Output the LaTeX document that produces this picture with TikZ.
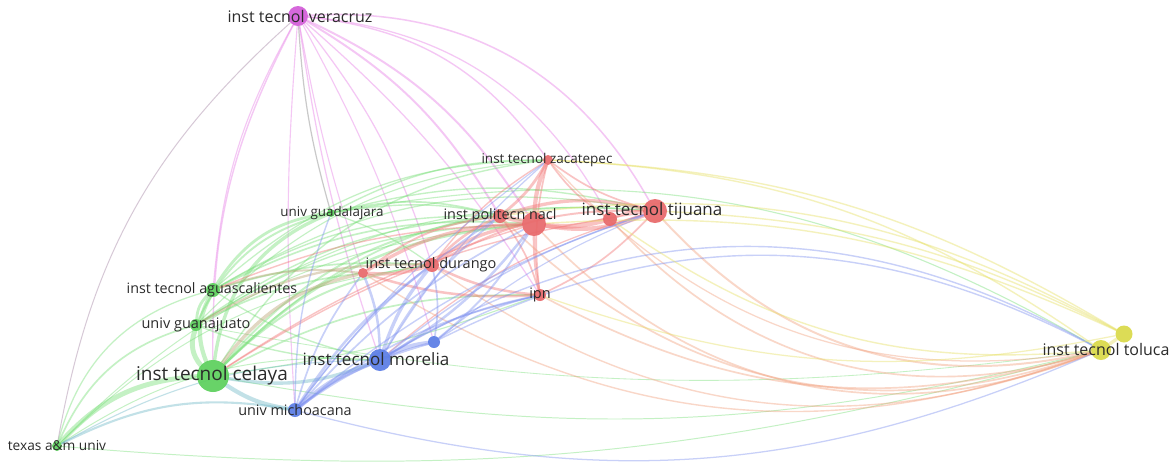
\documentclass[tikz,border=0pt]{standalone}
\usepackage{fontspec}
\setmainfont{Open Sans}
\usetikzlibrary{backgrounds}

\definecolor{vred}{HTML}{E8686A}
\definecolor{vgreen}{HTML}{5CD05C}
\definecolor{vblue}{HTML}{5A7CE6}
\definecolor{vyellow}{HTML}{DADA48}
\definecolor{vmag}{HTML}{D35CD8}
\definecolor{lred}{HTML}{F27272}
\definecolor{lgreen}{HTML}{74DE74}
\definecolor{lblue}{HTML}{7C8FF0}
\definecolor{lyellow}{HTML}{E6E060}
\definecolor{lorange}{HTML}{F2A07E}
\definecolor{lmag}{HTML}{E77BE6}
\definecolor{lteal}{HTML}{6FB8C8}
\definecolor{lolive}{HTML}{B8A070}
\definecolor{lbltext}{HTML}{2B2B2B}

\tikzset{
  dot/.style={circle, inner sep=0pt, draw=none, fill=#1, fill opacity=0.92},
  lbl/.style={text=lbltext, inner sep=0pt},
  link/.style={draw opacity=0.42, line cap=round},
}

\begin{document}
\begin{tikzpicture}[x=0.5pt, y=-0.5pt]

\useasboundingbox (0,0) rectangle (1174,468);

% institutions (sizes in half points)
\node[dot=vmag, minimum size=10pt] (ver) at (298,16) {};
\node[dot=vred, minimum size=5pt] (zac) at (548,160) {};
\node[dot=vred, minimum size=12pt] (tij) at (655,211) {};
\node[dot=vred, minimum size=7pt] (tij2) at (610,219) {};
\node[dot=vred, minimum size=7pt] (pn) at (500,216) {};
\node[dot=vred, minimum size=12pt] (pn2) at (534,224) {};
\node[dot=vred, minimum size=6pt] (ipn) at (540,295) {};
\node[dot=vred, minimum size=7pt] (dur) at (432,265) {};
\node[dot=vred, minimum size=5pt] (dur2) at (363,273) {};
\node[dot=vgreen, minimum size=4pt] (gdl) at (331,213) {};
\node[dot=vgreen, minimum size=7pt] (ags) at (213,290) {};
\node[dot=vgreen, minimum size=6pt] (gto) at (196,325) {};
\node[dot=vgreen, minimum size=16pt] (cel) at (213,376) {};
\node[dot=vgreen, minimum size=5pt] (tam) at (57,446) {};
\node[dot=vblue, minimum size=7pt] (umich) at (295,410) {};
\node[dot=vblue, minimum size=11pt] (mor) at (380,360) {};
\node[dot=vblue, minimum size=6pt] (mor2) at (434,342) {};
\node[dot=vyellow, minimum size=8.5pt] (tol2) at (1124,334) {};
\node[dot=vyellow, minimum size=10pt] (tol) at (1101,350) {};

% labels
\node[lbl, font=\fontsize{8}{8}\selectfont] (ver-t) at (300,16) {inst tecnol veracruz};
\node[lbl, font=\fontsize{6.75}{7}\selectfont] (zac-t) at (547,160) {inst tecnol zacatepec};
\node[lbl, font=\fontsize{8.5}{9}\selectfont] (tij-t) at (652,211) {inst tecnol tijuana};
\node[lbl, font=\fontsize{7.2}{8}\selectfont] (pn-t) at (500,216) {inst politecn nacl};
\node[lbl, font=\fontsize{7.25}{8}\selectfont] (ipn-t) at (540,295) {ipn};
\node[lbl, font=\fontsize{7.25}{8}\selectfont] (dur-t) at (431,265) {inst tecnol durango};
\node[lbl, font=\fontsize{6.7}{7}\selectfont] (gdl-t) at (332,213) {univ guadalajara};
\node[lbl, font=\fontsize{7.15}{8}\selectfont] (ags-t) at (212,290) {inst tecnol aguascalientes};
\node[lbl, font=\fontsize{7.25}{8}\selectfont] (gto-t) at (196,325) {univ guanajuato};
\node[lbl, font=\fontsize{9.5}{10}\selectfont] (cel-t) at (212,376) {inst tecnol celaya};
\node[lbl, font=\fontsize{6.85}{7}\selectfont] (tam-t) at (57,446) {texas a\&m univ};
\node[lbl, font=\fontsize{7.2}{8}\selectfont] (umich-t) at (295,410) {univ michoacana};
\node[lbl, font=\fontsize{8.5}{9}\selectfont] (mor-t) at (376,359) {inst tecnol morelia};
\node[lbl, font=\fontsize{8}{8}\selectfont] (tol-t) at (1106,349) {inst tecnol toluca};

\begin{scope}[on background layer]
\fill[white] (0,0) rectangle (1174,468);

% links from veracruz
\foreach \a/\b/\t/\w in {cel/ver/14/1, ags/ver/12/0.8, umich/ver/4/0.8,
  mor/ver/5/0.9, dur2/ver/4/0.8, ver/dur/10/0.9, ver/pn/14/1.4, ver/pn2/16/1.4,
  ver/ipn/8/0.9, ver/zac/24/1, ver/tij/32/1.1, ver/tij2/28/0.9, ver/mor2/6/0.8}
  \draw[link, lmag, line width=0.7pt*\w] (\a) to[bend left=\t] (\b);
\draw[link, gray!70!lmag, line width=0.5pt] (tam) to[bend left=19] (ver);
\draw[link, gray, line width=0.6pt] (gdl) to[bend left=6] (ver);

% green cluster
\foreach \a/\b/\t/\w in {tam/cel/22/3.5, tam/gto/25/1.2, tam/ags/30/0.9, tam/tol/-10/0.7,
  cel/gto/30/3.5, cel/ags/25/3, cel/gdl/30/2.4, gto/ags/20/2, ags/gdl/25/2,
  gto/gdl/25/1.4, cel/dur/18/1.4, cel/pn/20/1.4, cel/pn2/20/1.8,
  cel/ipn/14/1.2, cel/zac/25/1, cel/tij/25/1.2, cel/tol/-12/0.7, gto/tol/-9/0.6,
  gdl/zac/14/1, gdl/pn/14/1.2, gdl/pn2/12/1, gdl/dur/8/0.9, gdl/tij/14/1,
  gdl/tol/20/0.8, ags/dur/10/1.2, ags/pn2/15/1.2, ags/pn/15/1, ags/zac/20/0.9,
  ags/tij/20/0.9, ags/mor/-10/1, gto/pn/15/1, gto/pn2/15/1, gto/zac/20/0.8,
  gto/tij/18/0.8, gto/mor/-10/1, gto/dur2/10/1.2, tam/mor/18/0.7,
  tam/pn2/20/0.7, tam/dur/18/0.7, cel/ipn/-6/0.8}
  \draw[link, lgreen, line width=0.7pt*\w] (\a) to[bend left=\t] (\b);
\foreach \a/\b/\t/\w in {cel/mor/-15/2.4, cel/umich/-12/3, tam/umich/18/1.5, tam/mor/14/0.8}
  \draw[link, lteal, line width=0.7pt*\w] (\a) to[bend left=\t] (\b);
\foreach \a/\b/\t/\w in {cel/dur2/20/2.4, gto/dur/16/1.6, ags/dur2/12/1.4}
  \draw[link, lolive, line width=0.7pt*\w] (\a) to[bend left=\t] (\b);

% red cluster
\foreach \a/\b/\t/\w in {pn/pn2/0/3.5, pn2/tij2/-10/3.5, pn2/tij/-15/3, pn/tij/15/2.4,
  tij2/tij/10/2, zac/pn2/-10/3, zac/pn/10/2, zac/tij/-10/1.2, zac/tij2/-10/1.2,
  zac/ipn/-10/1.2, pn2/ipn/-5/1.8, pn/ipn/10/1.2, dur/ipn/-10/1.8, dur2/dur/-10/2.4,
  dur/pn2/15/2.4, dur/pn/10/1.8, dur2/pn2/15/2.4, dur2/ipn/-10/1.8, dur2/pn/15/1.4,
  ipn/tij/-10/1.2, dur/tij/15/1.4, tij/cel/-12/1, pn2/cel/-8/1, pn2/ags/-10/1,
  zac/dur/-10/1, tij/mor/-12/0.9}
  \draw[link, lred, line width=0.7pt*\w] (\a) to[bend left=\t] (\b);
\foreach \a/\b/\t/\w in {pn2/tol/-34/1.2, pn/tol/-32/1.2, ipn/tol/-22/1.2,
  dur/tol/-28/1, tij/tol/-30/1.4, tij2/tol/-32/1.2, dur2/tol/-26/1, zac/tol/-28/0.9}
  \draw[link, lorange, line width=0.7pt*\w] (\a) to[bend left=\t] (\b);

% blue cluster
\foreach \a/\b/\t/\w in {mor/umich/-10/3.5, mor/mor2/10/3, umich/mor2/10/1.8,
  umich/dur/10/1.8, umich/dur2/10/1.2, umich/gdl/10/1, umich/pn2/10/1.2,
  umich/pn/10/1.2, umich/ipn/12/1.2, mor/dur/10/2.4, mor/dur2/-10/1.8, mor/pn2/-10/1.8,
  mor/pn/10/1.4, mor/ipn/10/1.2, mor2/pn2/-10/1.4, mor2/dur/-10/1.2, mor2/ipn/10/1,
  mor/zac/8/0.9, umich/zac/8/0.8, mor/tol/30/1, mor2/tol/27/1, umich/tol/-19/0.9,
  umich/tij/10/1, mor/tij/10/1, mor2/tij/8/0.8}
  \draw[link, lblue, line width=0.7pt*\w] (\a) to[bend left=\t] (\b);

% toluca
\foreach \a/\b/\t/\w in {tol/tol2/0/2.4, zac/tol2/14/1, zac/tol/16/1,
  pn/tol2/18/1, pn2/tol2/14/1, tij/tol2/12/1, ipn/tol2/-15/0.9, tij2/tol/-20/1}
  \draw[link, lyellow, line width=0.7pt*\w] (\a) to[bend left=\t] (\b);
\end{scope}

\end{tikzpicture}
\end{document}
